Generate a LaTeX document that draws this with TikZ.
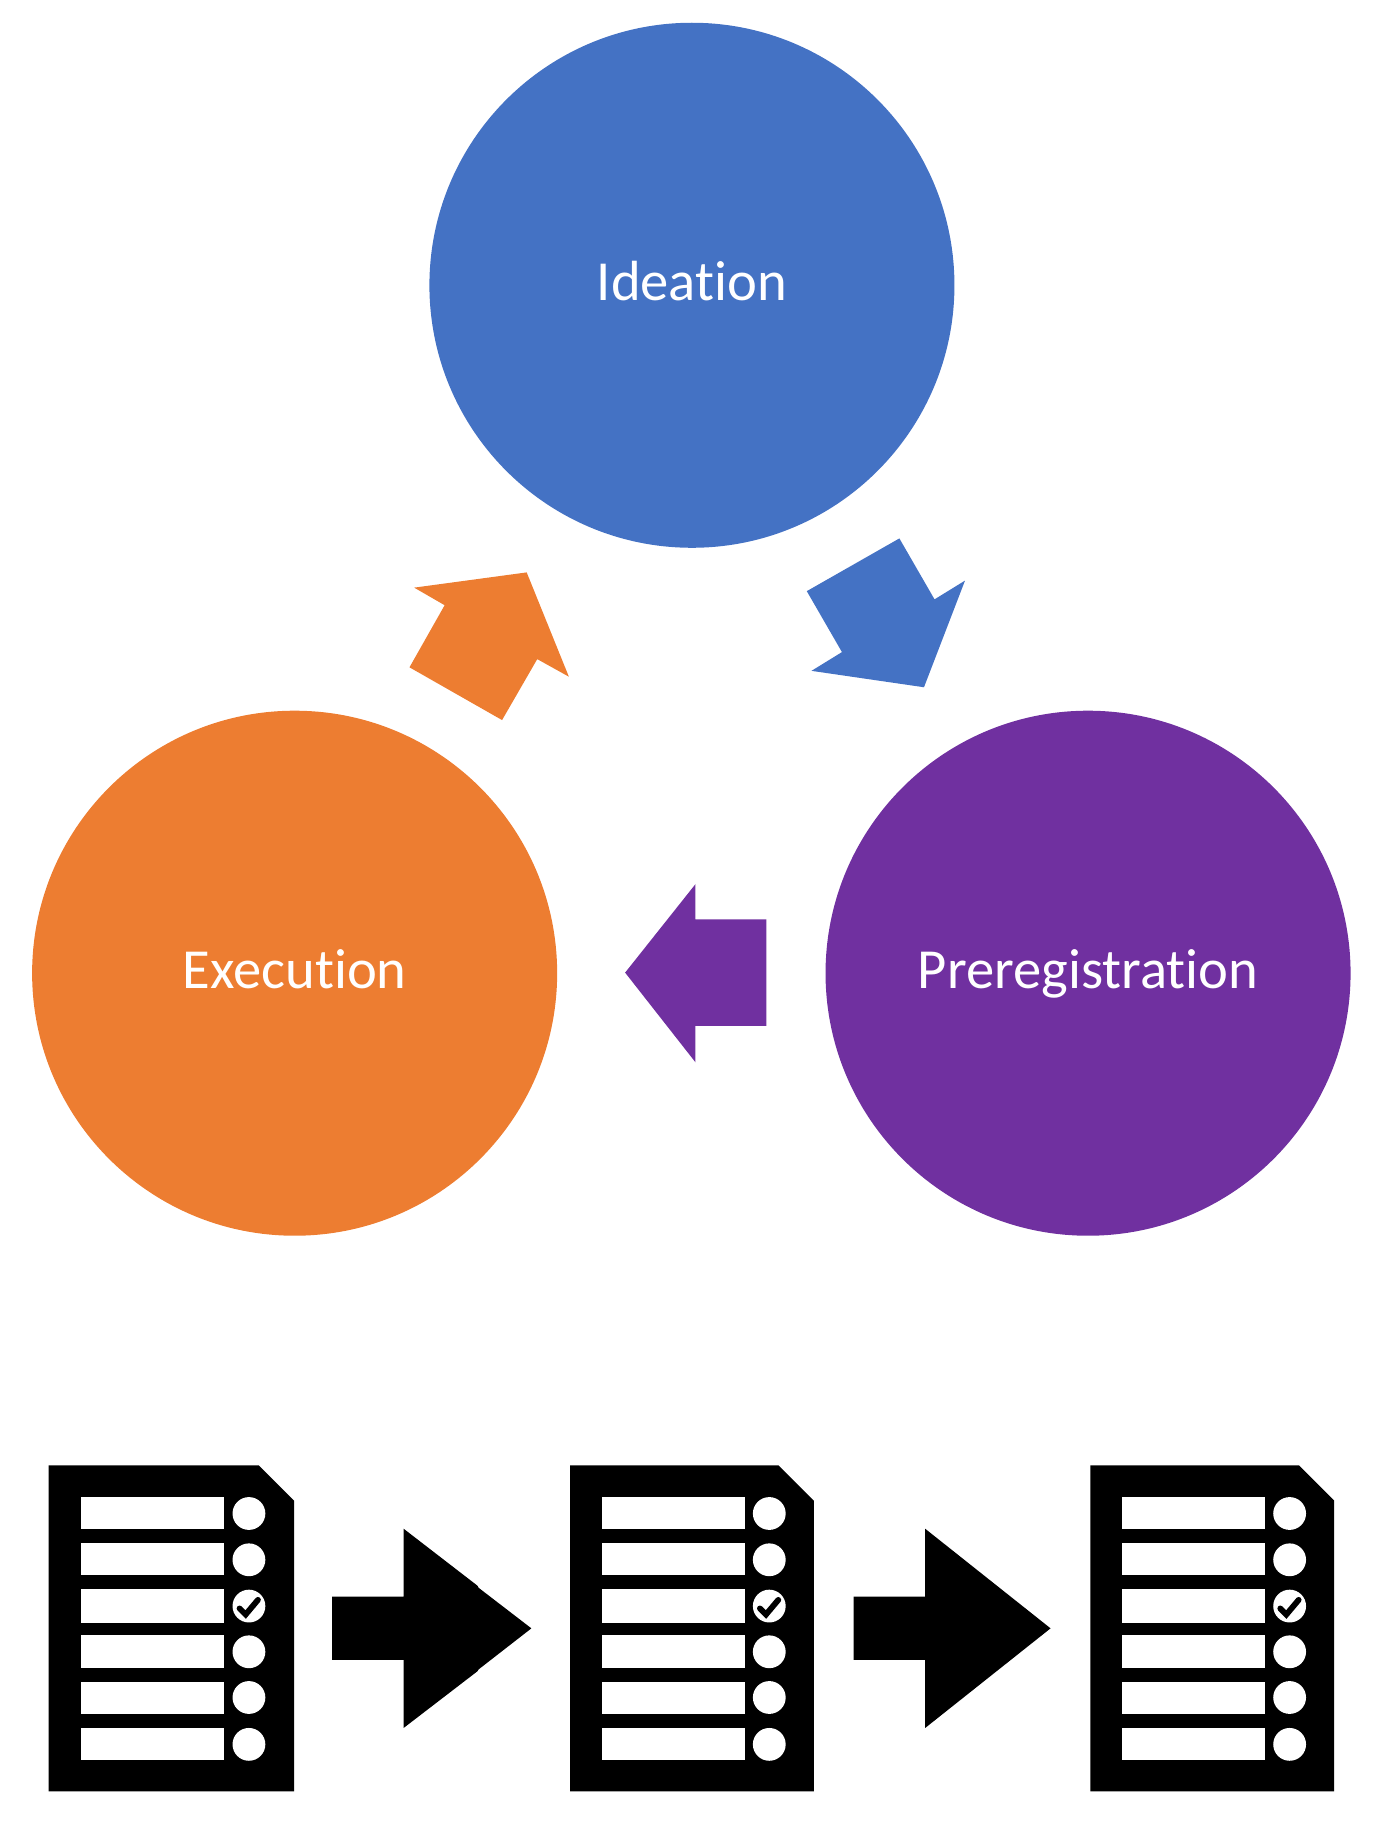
\documentclass[tikz,border=0pt]{standalone}
\usepackage{fontspec}
\setmainfont{Carlito}[Ligatures=NoCommon]
\usetikzlibrary{calc}
\definecolor{cblue}{HTML}{4472C4}
\definecolor{corange}{HTML}{ED7D31}
\definecolor{cpurple}{HTML}{7030A0}
\tikzset{
  phase/.style={circle,minimum size=262.5pt,inner sep=0pt,text=white,text height=15.4pt,text depth=0pt,font=\fontsize{28.3}{32}\selectfont},
  blockarrow/.style={fill=#1,draw=none},
  docbody/.style={fill=black,draw=none},
  docline/.style={fill=white,draw=none},
  docdot/.style={circle,fill=white,draw=none,minimum size=16.4pt,inner sep=0pt},
  tick/.style={draw=black,line width=2.9pt,line cap=round,line join=miter},
}
\newcommand{\checkdoc}[4]{%
  \begin{scope}[shift={(#1,0)}]
    \fill[docbody] (41,1250) -- ($(#3,1250)+(-30,0)$) -- (#3,1280) -- (#3,1528) -- (41,1528) -- cycle;
    \begin{scope}[shift={(#4,0)}]
    \foreach \ya/\yb in {1277/1304.5,1316/1343.5,1355.5/1384.5,1395/1422.5,1434.5/1462,1474/1501.5}
      \fill[docline] (69,\ya) rectangle (191,\yb);
    \foreach \n/\yc in {1/1291,2/1330.5,3/1370,4/1409,5/1448,6/1488}
      \node[docdot] (#2d\n) at (212,\yc) {};
    \draw[tick] ($(#2d3)+(-8,2)$) -- ++(5.2,5.2) -- ++(10.5,-12.5);
    \end{scope}
  \end{scope}}
\begin{document}
\begin{tikzpicture}[x=0.58595pt,y=-0.58595pt]
\useasboundingbox (-0.4,-0.4) rectangle (1184,1567.9);
\node[phase,fill=cblue] (ideation) at (590,243) {Ideation};
\node[phase,fill=corange] (execution) at (251,830) {Execution};
\node[phase,fill=cpurple] (prereg) at (928,830) {Preregistration};
\fill[blockarrow=cblue] (767,459) -- (797,511) -- (823,495) -- (788,586) -- (692,572) -- (718,556) -- (688,504) -- cycle;
\fill[blockarrow=corange] (449,488) -- (485,577) -- (458,562) -- (428,614) -- (349,569) -- (379,516) -- (353,501) -- cycle;
\fill[blockarrow=cpurple] (533,829.5) -- (593,754) -- (593,784) -- (653.5,784) -- (653.5,875) -- (593,875) -- (593,906) -- cycle;
\checkdoc{0}{a}{250.5}{0}
\checkdoc{445}{b}{249}{-1}
\checkdoc{889}{c}{249}{-1}
\fill[black] (283,1362) -- (344,1362) -- (344,1304) -- (407,1352.6) -- (408,1354.4) -- (453,1389) -- (408,1424) -- (407,1425.6) -- (344,1474) -- (344,1416) -- (283,1416) -- cycle;
\fill[black] (728,1362) -- (789,1362) -- (789,1304) -- (896,1389) -- (789,1474) -- (789,1416) -- (728,1416) -- cycle;
\end{tikzpicture}
\end{document}
